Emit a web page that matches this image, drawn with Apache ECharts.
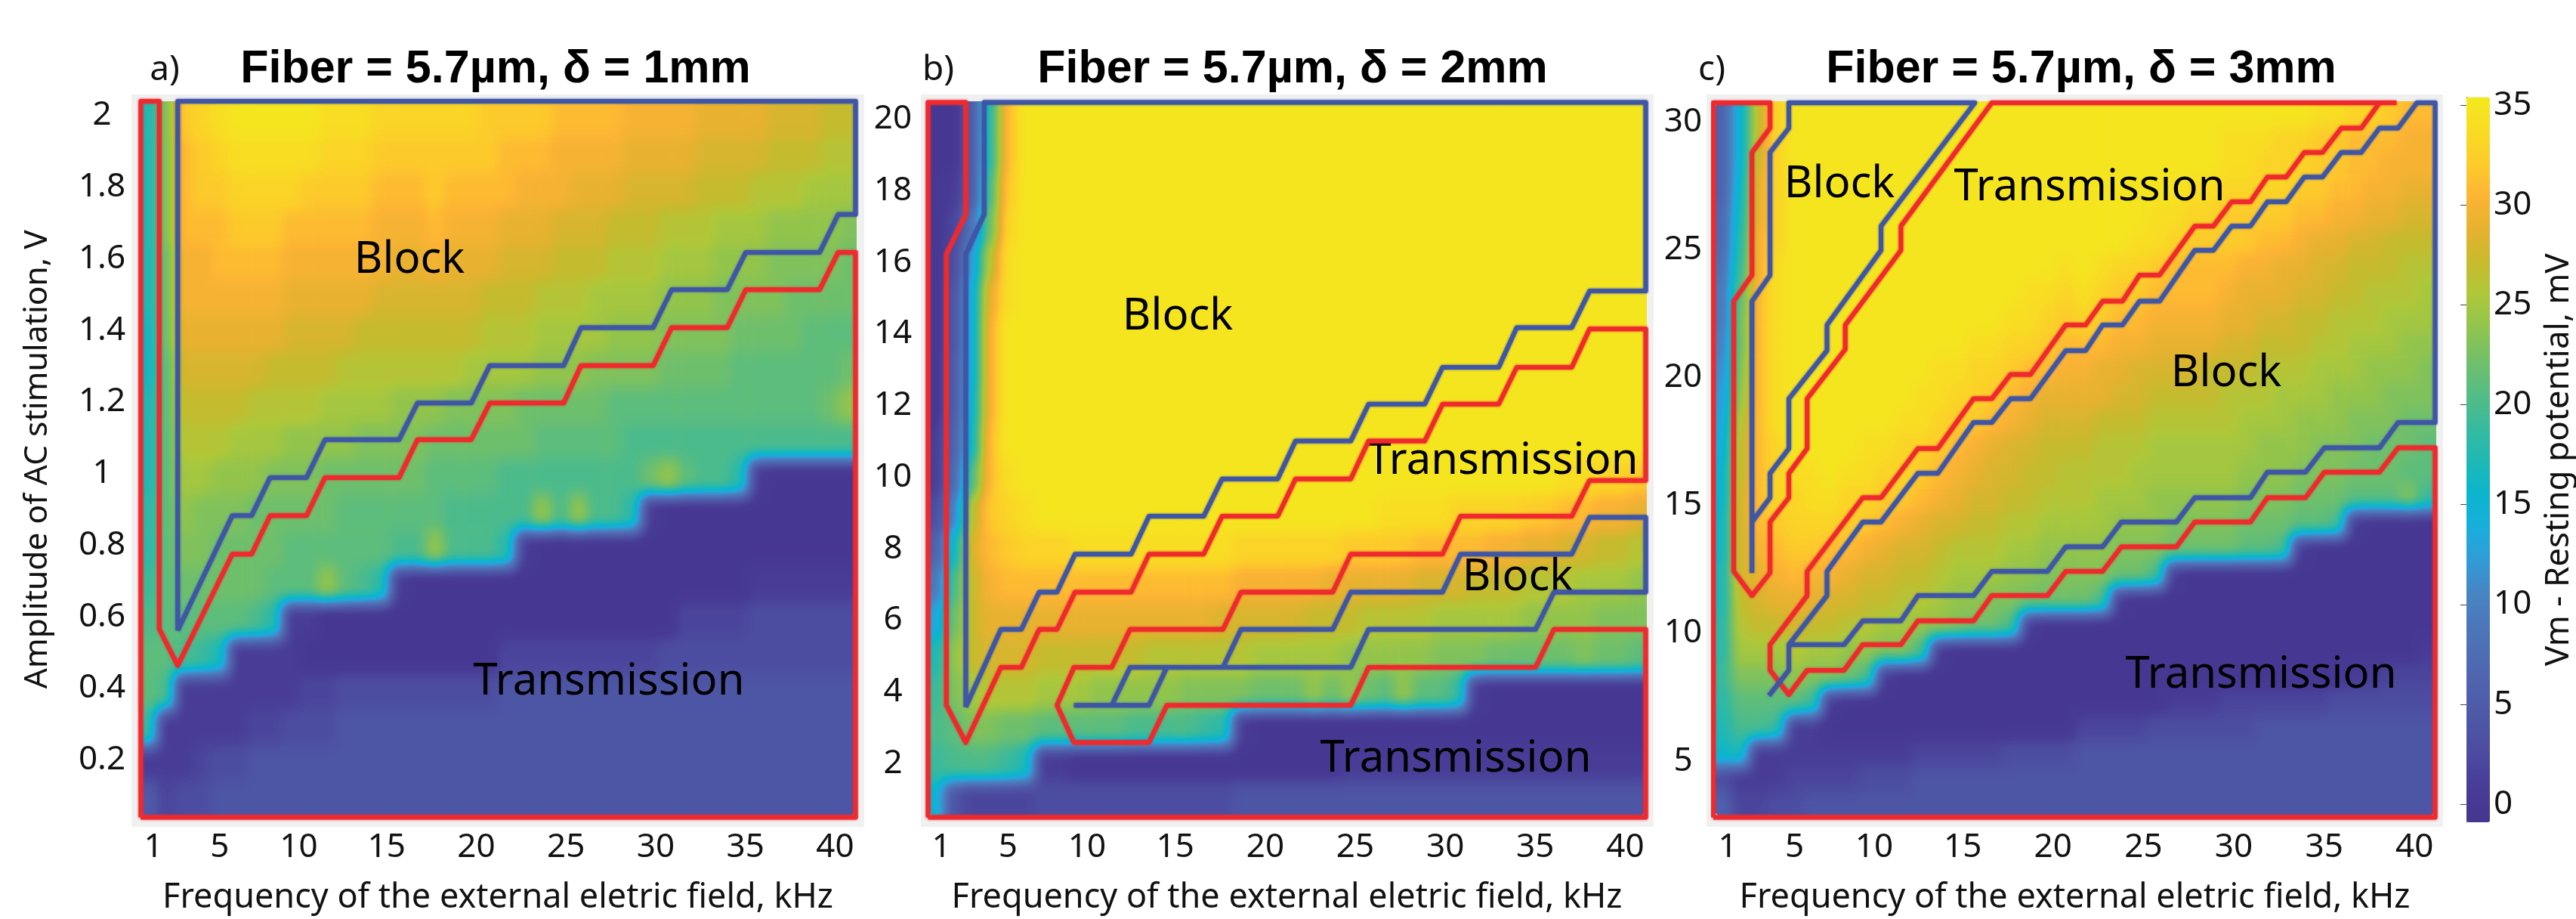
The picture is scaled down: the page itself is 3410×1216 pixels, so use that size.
<!DOCTYPE html>
<html><head><meta charset="utf-8">
<style>html,body{margin:0;padding:0;background:#fff}#c{width:3410px;height:1216px;overflow:hidden}</style>
<script src="https://cdn.jsdelivr.net/npm/echarts@6/dist/echarts.min.js"></script>
</head><body>
<svg width="0" height="0" style="position:absolute"><defs>
<filter id="vmMap" x="0" y="0" width="100%" height="100%" color-interpolation-filters="sRGB">
<feGaussianBlur stdDeviation="8 10"/>
<feComponentTransfer><feFuncR id="fR" type="table"/><feFuncG id="fG" type="table"/><feFuncB id="fB" type="table"/><feFuncA type="discrete" tableValues="0 1"/></feComponentTransfer>
</filter></defs></svg>
<div id="c"></div>
<script>
const vmMin=-0.9, vmMax=35.4;
const parula=['#45368f','#483b96','#4c4a9f','#4e56a6','#4f60ac','#4e6cb3','#4c78ba','#4785c4','#2f9dd8','#18aedc','#0bb5cc','#20b9b4','#38ba9f','#55bc84','#72c06a','#90c44f','#aec83a','#c8ba2e','#e6b230','#fdb435','#fdcc2b','#f9dc24','#f4e91e'];
const xTickPos=[0.8,4.5,8.9,13.8,18.8,23.8,28.8,33.8,38.8];
const xTickLabels=['1','5','10','15','20','25','30','35','40'];
const yTicksA=[0.2,0.4,0.6,0.8,1,1.2,1.4,1.6,1.8,2];
const yTicksB=[2,4,6,8,10,12,14,16,18,20];
const yTicksC=[5,10,15,20,25,30];
const barTicks=[0,5,10,15,20,25,30,35];

const heatA=[
[17,23,32,33,34,35,35,35,35,35,34,34,34,33,33,33,33,33,33,32,32,32,32,31,31,31,31,30,30,30,30,29,29,29,29,28,28,28,27,27],
[17,23,31,32,33,34,34,34,34,34,33,33,33,32,32,32,32,32,32,32,31,31,31,30,30,30,30,29,29,29,29,28,28,28,28,27,27,27,26,26],
[17,23,31,32,32,33,33,33,33,32,32,32,32,31,31,31,32,31,31,31,31,30,30,30,29,29,29,28,28,28,28,27,27,27,26,26,26,25,25,25],
[17,23,31,31,31,32,32,32,31,31,31,31,31,30,30,30,31,30,30,30,29,29,29,28,28,28,27,27,27,26,26,26,25,25,25,24,24,24,24,23],
[17,22,30,30,31,31,31,31,30,30,30,30,30,30,29,29,30,29,29,29,28,28,28,27,27,27,26,26,26,25,25,25,24,24,24,23,23,23,23,22],
[17,22,30,30,30,30,30,30,29,29,29,29,29,28,28,28,28,28,28,27,27,27,26,26,26,25,25,25,25,24,24,24,23,23,23,23,22,22,22,22],
[16,22,29,29,29,29,29,29,28,28,28,28,27,27,27,27,27,27,27,26,26,26,25,25,25,25,24,24,24,23,23,23,23,22,22,22,22,21,21,21],
[16,21,28,28,28,28,28,27,27,27,27,26,26,26,26,26,26,26,25,25,25,25,24,24,24,23,23,23,23,22,22,22,22,21,21,21,21,21,21,22],
[17,21,27,27,27,27,26,26,26,26,25,25,25,25,24,24,24,23,23,23,23,22,22,22,22,22,21,21,21,21,21,21,21,21,21,21,21,21,22,24],
[17,21,26,26,26,25,25,25,24,24,24,24,23,23,23,23,22,22,22,22,22,22,21,21,21,21,21,20,20,20,20,20,20,20,20,20,20,20,20,20],
[17,21,25,25,24,24,24,23,23,23,22,22,22,22,22,22,21,21,21,21,20,20,20,20,20,20,20,20,22,24,21,20,20,18,1,0,0,0,0,0],
[18,21,24,23,23,23,22,22,22,22,22,21,21,21,21,21,21,20,20,20,20,20,24,20,24,20,20,18,1,0,0,0,0,0,0,0,0,0,0,0],
[18,21,23,23,22,22,22,22,21,21,21,21,21,21,20,20,24,20,20,20,18,1,0,0,0,0,0,0,0,0,0,0,0,0,0,0,0,0,0,0],
[19,21,22,22,22,22,22,21,21,21,24,21,20,18,1,0,0,0,0,0,0,0,0,0,0,0,0,0,0,0,0,0,0,0,1,1,1,1,1,1],
[20,21,21,21,21,21,20,18,1,1,0,0,0,0,0,0,0,0,0,0,0,0,0,0,0,0,0,0,0,0,2,2,2,2,3,3,3,3,3,3],
[21,21,20,19,17,1,1,1,1,0,0,0,0,0,0,0,0,0,0,0,2,2,2,2,2,2,2,2,2,3,3,3,3,3,3,3,3,3,3,3],
[21,20,1,1,1,1,1,1,1,2,2,3,3,3,3,3,3,3,3,3,4,4,4,4,4,4,4,4,4,4,4,4,4,4,4,4,4,4,4,4],
[19,1,1,1,1,1,2,2,3,3,3,4,4,4,4,4,4,4,4,4,4,4,4,4,4,4,4,4,4,4,4,4,4,4,4,4,4,4,4,4],
[1,1,1,2,3,3,4,4,4,4,4,4,4,4,4,4,4,4,4,4,4,4,4,4,4,4,4,4,4,4,4,4,4,4,4,4,4,4,4,4],
[5,2,3,3,4,4,4,4,4,4,4,4,4,4,4,4,4,4,4,4,4,4,4,4,4,4,4,4,4,4,4,4,4,4,4,4,4,4,4,4]
];
const heatB=[
[0,0,5,18,31,35,35,35,35,35,35,35,35,35,35,35,35,35,35,35,35,35,35,35,35,35,35,35,35,35,35,35,35,35,35,35,35,35,35,35],
[0,0,5,18,31,35,35,35,35,35,35,35,35,35,35,35,35,35,35,35,35,35,35,35,35,35,35,35,35,35,35,35,35,35,35,35,35,35,35,35],
[0,1,5,20,32,35,35,35,35,35,35,35,35,35,35,35,35,35,35,35,35,35,35,35,35,35,35,35,35,35,35,35,35,35,35,35,35,35,35,35],
[0,2,8,22,33,35,35,35,35,35,35,35,35,35,35,35,35,35,35,35,35,35,35,35,35,35,35,35,35,35,35,35,35,35,35,35,35,35,35,35],
[0,3,12,26,34,35,35,35,35,35,35,35,35,35,35,35,35,35,35,35,35,35,35,35,35,35,35,35,35,35,35,35,35,35,35,35,35,35,35,35],
[0,4,14,29,34,35,35,35,35,35,35,35,35,35,35,35,35,35,35,35,35,35,35,35,35,35,35,35,35,35,35,35,35,35,35,35,35,35,35,35],
[0,4,14,30,35,35,35,35,35,35,35,35,35,35,35,35,35,35,35,35,35,35,35,35,35,35,35,35,35,35,35,35,35,35,35,35,35,35,35,35],
[0,5,14,30,35,35,35,35,35,35,35,35,35,35,35,35,35,35,35,35,35,35,35,35,35,35,35,35,35,35,35,35,35,35,35,35,35,35,35,35],
[0,5,15,30,35,35,35,35,35,35,35,35,35,35,35,35,35,35,35,35,35,35,35,35,35,35,35,35,35,35,35,35,35,35,35,35,35,35,35,35],
[1,6,16,31,35,35,35,35,35,35,35,35,35,35,35,35,35,35,35,35,35,35,35,35,35,35,35,35,35,35,35,35,35,35,35,35,35,35,35,35],
[1,7,20,31,34,35,35,35,35,35,35,35,35,35,35,35,35,35,35,35,35,35,35,35,35,35,35,35,35,35,35,35,35,35,35,34,34,33,33,32],
[3,10,26,32,33,34,35,35,35,35,35,35,35,35,35,35,35,35,35,35,35,35,35,35,35,34,34,34,34,33,33,33,33,32,32,31,31,30,30,29],
[6,16,28,31,32,33,33,33,34,34,34,34,34,34,34,34,34,33,33,33,33,33,33,32,32,32,32,31,31,31,31,30,30,29,29,28,28,27,27,26],
[9,20,27,30,31,31,31,31,31,31,31,31,31,31,31,31,31,30,30,30,30,30,29,29,29,29,29,28,28,28,27,27,27,26,26,26,25,25,25,24],
[13,22,27,29,29,29,29,29,29,29,29,29,29,29,29,29,28,28,28,28,28,27,27,27,26,26,26,26,25,25,25,25,25,24,24,24,24,23,23,23],
[17,24,27,28,28,28,27,27,27,27,27,27,26,26,26,26,26,26,25,25,25,25,25,24,24,24,24,24,23,23,23,22,22,22,22,22,23,22,22,21],
[19,23,25,26,26,26,25,25,25,24,24,24,24,24,23,23,23,23,22,22,22,24,22,24,22,21,24,21,21,19,1,0,0,0,0,0,0,0,0,0],
[20,21,23,23,22,22,21,21,21,21,21,20,20,20,20,19,18,1,0,0,0,0,0,0,0,0,0,0,0,0,0,0,0,0,0,0,0,0,0,0],
[19,20,20,20,19,17,1,1,0,0,0,0,0,0,0,0,0,0,0,0,0,0,0,1,1,1,1,1,1,1,1,1,1,1,1,1,1,1,1,1],
[15,4,2,2,2,2,3,3,3,3,3,3,3,3,3,3,3,4,4,4,4,4,4,4,4,4,4,4,4,4,4,4,4,4,4,4,4,4,4,4]
];
const heatC=[
[6,15,27,33,35,35,35,35,35,35,35,35,35,35,35,35,35,35,35,35,35,35,35,35,35,35,35,35,35,35,35,35,35,34,34,33,33,32,31,31],
[6,15,27,33,35,35,35,35,35,35,35,35,35,35,35,35,35,35,35,35,35,35,35,35,35,35,35,35,34,34,34,33,33,32,32,31,31,31,30,30],
[6,15,28,33,35,35,35,35,35,35,35,35,35,35,35,35,35,35,35,35,35,35,35,35,35,35,35,35,34,34,33,33,33,32,32,31,31,30,30,30],
[6,16,29,33,35,35,35,35,35,35,35,35,35,35,35,35,35,35,35,35,35,35,35,35,35,35,34,34,33,33,33,33,32,32,31,31,30,30,29,29],
[7,17,29,33,35,35,35,35,35,35,35,35,35,35,35,35,35,35,35,35,35,35,35,35,34,34,33,33,32,32,32,32,31,31,30,30,29,29,28,28],
[7,18,30,33,35,35,35,35,35,35,35,35,35,35,35,35,35,35,35,35,35,35,35,34,34,33,32,32,32,32,31,31,30,29,29,28,28,27,27,27],
[8,19,30,34,35,35,35,35,35,35,35,35,35,35,35,35,35,35,35,34,35,34,33,33,32,31,31,31,31,30,30,29,29,28,28,27,27,27,26,26],
[9,21,31,34,35,35,35,35,35,35,35,35,35,35,35,35,35,34,34,33,34,33,32,32,31,31,31,31,30,29,29,29,28,28,27,27,26,26,26,25],
[9,22,31,34,35,35,35,35,35,35,35,35,35,35,35,35,34,34,33,32,33,32,31,31,30,30,30,30,29,29,28,28,27,27,26,26,26,25,25,25],
[10,22,31,34,35,35,35,35,35,35,35,35,35,35,34,34,33,33,32,31,31,31,30,30,29,29,29,29,28,28,27,27,27,26,26,25,25,25,24,24],
[11,23,31,34,35,35,35,35,35,35,35,35,34,34,33,33,32,31,31,30,30,29,29,28,28,28,28,27,27,27,26,26,26,25,25,25,24,24,24,23],
[12,24,31,34,35,35,35,35,35,35,35,34,34,33,33,32,31,30,29,29,29,29,28,28,27,27,27,27,26,26,26,25,25,25,24,24,24,23,23,23],
[13,26,31,34,35,35,35,35,35,35,34,34,33,32,32,31,30,29,28,28,28,27,27,27,26,26,26,26,26,25,25,25,24,24,24,23,23,23,22,22],
[14,27,31,33,35,35,35,35,34,34,33,33,32,31,30,29,28,28,27,27,27,26,26,26,25,25,25,25,25,25,24,24,24,23,23,23,22,22,22,21],
[15,27,31,33,34,34,35,34,34,33,33,32,31,30,29,28,28,27,27,26,26,26,26,25,25,25,25,25,25,24,24,24,23,23,23,22,22,22,21,21],
[15,28,31,33,33,34,34,33,33,32,32,31,30,29,28,28,27,27,26,26,26,25,25,25,24,24,24,24,24,23,23,23,22,22,22,21,21,21,23,19],
[16,28,31,32,33,33,33,32,32,31,30,29,28,28,27,27,26,26,25,25,25,25,24,24,24,23,23,23,23,22,22,22,21,21,20,1,0,0,0,0],
[16,28,30,31,32,32,31,31,30,29,28,28,27,26,26,26,25,25,24,24,24,24,23,23,23,22,22,22,22,21,21,20,1,0,0,0,0,0,0,0],
[17,28,29,30,31,30,30,29,28,28,27,27,26,25,25,25,24,24,23,23,23,23,22,22,20,1,0,0,0,0,0,0,0,0,0,0,0,0,0,0],
[17,27,28,29,29,29,28,28,27,27,26,26,25,24,24,23,23,22,22,22,22,20,1,0,0,0,0,0,0,0,0,0,0,0,0,0,0,0,0,0],
[18,26,27,27,28,27,27,26,26,25,25,24,24,23,22,22,20,1,0,0,0,0,0,0,0,0,0,0,0,0,0,0,0,0,0,0,0,0,0,0],
[18,25,25,25,26,25,25,24,24,23,23,20,1,0,0,0,0,0,0,0,0,0,0,0,0,0,0,0,0,0,0,0,0,0,0,0,0,0,0,1],
[19,23,23,23,24,23,23,22,20,1,0,0,0,0,0,0,0,0,0,0,0,0,0,0,0,0,0,0,0,0,0,0,0,0,0,1,1,2,2,2],
[18,21,21,21,21,19,1,0,0,0,0,0,0,0,0,0,0,0,0,0,0,0,0,0,0,1,1,1,2,2,2,2,2,2,3,3,3,3,3,3],
[17,20,20,19,1,1,0,0,0,0,0,0,0,0,0,0,0,0,0,0,2,2,2,2,3,3,3,3,3,3,4,4,4,4,4,4,4,4,4,4],
[16,17,1,1,1,1,1,1,1,1,1,2,2,2,2,2,3,3,3,3,4,4,4,4,4,4,4,4,4,4,4,4,4,4,4,4,4,4,4,4],
[3,1,1,1,2,2,2,2,3,3,3,4,4,4,4,4,4,4,4,4,4,4,4,4,4,4,4,4,4,4,4,4,4,4,4,4,4,4,4,4],
[6,2,2,3,3,4,4,4,4,4,4,4,4,4,4,4,4,4,4,4,4,4,4,4,4,4,4,4,4,4,4,4,4,4,4,4,4,4,4,4]
];

const redA=[[0.1,0.04],[0.1,2.04],[1.13,2.04],[1.13,0.566],[2.16,0.464],[5.2,0.775],[6.28,0.775],[7.31,0.883],[9.34,0.883],[10.37,0.989],[14.5,0.989],[15.52,1.095],[18.52,1.095],[19.55,1.197],[23.67,1.197],[24.64,1.302],[28.66,1.302],[29.69,1.408],[32.79,1.408],[33.82,1.514],[37.94,1.514],[38.97,1.618],[39.94,1.618],[39.94,0.04],[0.1,0.04]];
const blueA=[[2.16,0.562],[2.16,2.04],[39.94,2.04],[39.94,1.724],[38.97,1.724],[37.94,1.618],[33.82,1.618],[32.79,1.514],[29.69,1.514],[28.66,1.408],[24.64,1.408],[23.67,1.302],[19.55,1.302],[18.52,1.197],[15.52,1.197],[14.5,1.095],[10.37,1.095],[9.34,0.989],[7.31,0.989],[6.28,0.883],[5.2,0.883],[2.16,0.562]];
const redB=[[0.06,0.5],[0.06,20.47],[2.16,20.47],[2.16,17.34],[1.08,16.23],[1.08,3.63],[2.16,2.59],[4.11,4.69],[5.25,4.69],[6.24,5.75],[7.23,5.75],[8.23,6.79],[11.35,6.79],[12.34,7.85],[15.38,7.85],[16.4,8.91],[19.49,8.91],[20.48,9.95],[23.55,9.95],[24.54,11.01],[27.66,11.01],[28.65,12.04],[31.77,12.04],[32.77,13.07],[35.83,13.07],[36.82,14.14],[39.94,14.14],[39.94,9.91],[36.82,9.91],[35.83,8.91],[29.65,8.91],[28.65,7.85],[23.55,7.85],[22.55,6.79],[17.45,6.79],[16.45,5.75],[11.29,5.75],[10.27,4.69],[8.17,4.69],[7.23,3.63],[8.17,2.59],[12.34,2.59],[13.33,3.63],[23.55,3.63],[24.54,4.69],[33.82,4.69],[34.84,5.75],[39.94,5.75],[39.94,0.5],[0.06,0.5]];
const blueB1=[[2.16,3.58],[2.16,16.23],[3.18,17.34],[3.18,20.47],[39.94,20.47],[39.94,15.2],[36.82,15.2],[35.83,14.18],[32.77,14.18],[31.77,13.07],[28.65,13.07],[27.66,12.04],[24.54,12.04],[23.55,11.01],[20.48,11.01],[19.49,9.95],[16.4,9.95],[15.38,8.91],[12.34,8.91],[11.35,7.85],[8.23,7.85],[7.23,6.79],[6.24,6.79],[5.25,5.75],[4.11,5.75],[2.16,3.58]];
const blueB2=[[8.17,3.63],[12.34,3.63],[13.33,4.69],[23.55,4.69],[24.54,5.75],[33.82,5.75],[34.84,6.79],[39.94,6.79],[39.94,8.88],[36.82,8.88],[35.83,7.85],[29.65,7.85],[28.65,6.79],[23.55,6.79],[22.55,5.75],[17.45,5.75],[16.45,4.69],[11.29,4.69],[10.27,3.63]];
const redC1=[[0,2.8],[0,30.74],[3.14,30.74],[3.14,29.75],[2.14,28.8],[2.14,24],[1.13,22.98],[1.13,12.42],[2.14,11.47],[3.14,12.36],[3.14,14.35],[4.18,15.3],[4.18,16.25],[5.19,17.22],[5.19,19.17],[7.3,21.1],[7.3,22.05],[10.38,24.97],[10.38,25.92],[15.41,30.74],[37.8,30.74]];
const redC2=[[36.86,30.74],[35.85,29.75],[34.75,29.75],[33.71,28.8],[32.7,28.8],[31.7,27.84],[30.66,27.84],[29.72,26.87],[28.68,26.87],[27.67,25.92],[26.64,25.92],[24.69,24],[23.58,24],[22.64,22.98],[21.54,22.98],[20.6,22.05],[19.5,22.05],[17.55,20.12],[16.45,20.12],[15.41,19.17],[14.4,19.17],[12.42,17.22],[11.32,17.22],[9.28,15.3],[8.27,15.3],[5.19,12.42],[5.19,11.47],[3.14,9.55],[3.14,8.55],[4.18,7.6],[5.19,8.55],[7.23,8.55],[8.27,9.55],[10.38,9.55],[11.32,10.48],[14.4,10.48],[15.41,11.47],[18.49,11.47],[19.5,12.42],[21.54,12.42],[22.58,13.38],[25.63,13.38],[26.64,14.35],[29.72,14.35],[30.66,15.3],[32.77,15.3],[33.81,16.3],[36.86,16.3],[37.89,17.25],[39.94,17.25],[39.94,2.8],[0,2.8]];
const blueC1=[[2.14,12.36],[2.14,22.98],[3.14,24],[3.14,28.8],[4.18,29.75],[4.18,30.74],[14.47,30.74],[9.28,25.92],[9.28,24.97],[6.29,22.05],[6.29,21.05],[4.18,19.17],[4.18,17.22],[3.14,16.25],[3.14,15.3],[2.14,14.35]];
const blueC2=[[3.08,7.56],[4.18,8.55],[4.18,9.55],[7.23,9.55],[8.27,10.48],[10.38,10.48],[11.32,11.47],[14.4,11.47],[15.41,12.42],[18.49,12.42],[19.5,13.38],[21.54,13.38],[22.58,14.35],[25.63,14.35],[26.64,15.3],[29.72,15.3],[30.66,16.3],[32.77,16.3],[33.81,17.25],[36.86,17.25],[37.89,18.24],[39.94,18.24],[39.94,30.74],[38.93,30.74],[37.89,29.75],[36.86,29.75],[35.85,28.8],[34.75,28.8],[33.71,27.84],[32.7,27.84],[31.7,26.87],[30.66,26.87],[29.72,25.92],[28.68,25.92],[27.67,24.97],[26.64,24.97],[24.69,22.98],[23.58,22.98],[22.64,22.05],[21.54,22.05],[20.6,21.05],[19.5,21.05],[17.55,19.17],[16.45,19.17],[15.41,18.24],[14.4,18.24],[12.42,16.25],[11.32,16.25],[9.28,14.35],[8.27,14.35],[6.29,12.42],[6.29,11.47],[4.18,9.55]];

const RED='#ee2a2e', BLUE='#3f55a6', TXT='#111';
const SANS='"Noto Sans"', BOLD='"Liberation Sans"';
const panels=[
 {heat:heatA,left:184,width:950,yMin:0.04,yMax:2.04,yTicks:yTicksA,labelMargin:49,yName:'Amplitude of AC stimulation, V',lines:[[redA,RED],[blueA,BLUE]]},
 {heat:heatB,left:1227,width:953,yMin:0.5,yMax:20.5,yTicks:yTicksB,labelMargin:45,yName:'',lines:[[redB,RED],[blueB1,BLUE],[blueB2,BLUE]]},
 {heat:heatC,left:2268,width:957,yMin:2.8,yMax:30.8,yTicks:yTicksC,labelMargin:40,yName:'',lines:[[redC1,RED],[redC2,RED],[blueC1,BLUE],[blueC2,BLUE]]}
];
const titles=[['Fiber = 5.7µm, δ = 1mm',656],['Fiber = 5.7µm, δ = 2mm',1711],['Fiber = 5.7µm, δ = 3mm',2755]];
const tags=[['a)',218],['b)',1242],['c)',2266]];
const notes=[['Block',542,344],['Transmission',806,902],['Block',1559,419],['Transmission',1989,610],['Block',2009,764],['Transmission',1927,1004],['Block',2435,244],['Transmission',2766,248],['Block',2947,494],['Transmission',2993,893]];
const frames=[[174,125,970,969],[1219,125,970,969],[2259,125,975,969]];

const grid=[],xAxis=[],yAxis=[],series=[];
panels.forEach((p,i)=>{
 grid.push({left:p.left,width:p.width,top:134,height:948,show:false});
 const rows=p.heat.length, cols=p.heat[0].length;
 const hx=xAxis.length, hy=yAxis.length;
 xAxis.push({type:'category',gridIndex:i,show:false,data:Array.from({length:cols},(_,k)=>k)});
 yAxis.push({type:'category',gridIndex:i,show:false,inverse:true,data:Array.from({length:rows},(_,k)=>k)});
 const vx=xAxis.length, vy=yAxis.length;
 xAxis.push({type:'value',gridIndex:i,min:0,max:40,zlevel:2,position:'bottom',splitLine:{show:false},axisLine:{show:false},axisTick:{show:false},
  axisLabel:{customValues:xTickPos,formatter:v=>xTickLabels[xTickPos.indexOf(v)],margin:40,verticalAlign:'middle',fontFamily:SANS,fontSize:44,color:TXT},
  name:'Frequency of the external eletric field, kHz',nameLocation:'middle',nameGap:107,nameTextStyle:{fontFamily:SANS,fontSize:45,color:TXT,verticalAlign:'middle'}});
 yAxis.push({type:'value',gridIndex:i,min:p.yMin,max:p.yMax,zlevel:2,position:'left',splitLine:{show:false},axisLine:{show:false},axisTick:{show:false},
  axisLabel:{customValues:p.yTicks,margin:p.labelMargin,align:'center',fontFamily:SANS,fontSize:44,color:TXT},
  name:p.yName,nameLocation:'middle',nameGap:134,nameRotate:90,nameTextStyle:{fontFamily:SANS,fontSize:42.5,color:TXT,verticalAlign:'middle'}});
 const cells=[];
 p.heat.forEach((r,y)=>r.forEach((v,x)=>cells.push([x,y,v])));
 series.push({type:'heatmap',xAxisIndex:hx,yAxisIndex:hy,data:cells,zlevel:1,silent:true,progressive:0,emphasis:{disabled:true},itemStyle:{borderWidth:0}});
 p.lines.forEach(([d,c])=>series.push({type:'line',xAxisIndex:vx,yAxisIndex:vy,data:d,zlevel:2,silent:true,clip:false,symbol:'none',animation:false,
  lineStyle:{color:c,width:6,join:'round',shadowBlur:3,shadowColor:c}}));
});
// colour bar axis
grid.push({left:3265,width:31,top:128.5,height:959.5,show:false});
xAxis.push({type:'value',gridIndex:3,show:false,min:0,max:1});
yAxis.push({type:'value',gridIndex:3,min:vmMin,max:vmMax,position:'right',zlevel:2,splitLine:{show:false},
 axisLine:{show:true,lineStyle:{color:'#555',width:1}},
 axisTick:{show:true,inside:true,length:8,customValues:barTicks,lineStyle:{color:'#444'}},
 axisLabel:{customValues:barTicks,margin:14,fontFamily:SANS,fontSize:44,color:TXT},
 name:'Vm - Resting potential, mV',nameLocation:'middle',nameGap:100,nameRotate:90,nameTextStyle:{fontFamily:SANS,fontSize:44,color:TXT,verticalAlign:'middle'}});

const graphic=[];
frames.forEach(f=>graphic.push({type:'rect',zlevel:0,silent:true,shape:{x:f[0],y:f[1],width:f[2],height:f[3]},style:{fill:'#f0f0f0'}}));
tags.forEach(t=>graphic.push({type:'text',zlevel:2,silent:true,x:t[1],y:93,style:{text:t[0],fontFamily:SANS,fontSize:46,fill:TXT,align:'center',verticalAlign:'middle'}}));
notes.forEach(n=>graphic.push({type:'text',zlevel:2,silent:true,x:n[1],y:n[2],style:{text:n[0],fontFamily:SANS,fontSize:58,fill:'#000',align:'center',verticalAlign:'middle'}}));

const chart=echarts.init(document.getElementById('c'),null,{renderer:'canvas'});
chart.setOption({
 animation:false,backgroundColor:'#fff',
 title:titles.map(t=>({text:t[0],left:t[1],top:62,padding:0,textAlign:'center',zlevel:2,textStyle:{fontFamily:BOLD,fontWeight:'bold',fontSize:61,color:'#000'}})),
 grid,xAxis,yAxis,series,graphic,
 visualMap:[
  {type:'continuous',show:false,seriesIndex:series.map((s,k)=>s.type==='heatmap'?k:-1).filter(k=>k>=0),min:vmMin,max:vmMax,inRange:{color:['#000000','#ffffff']},calculable:false,hoverLink:false},
  {type:'continuous',show:true,seriesIndex:[],min:vmMin,max:vmMax,left:3265,top:128.5,padding:0,itemWidth:31,itemHeight:959.5,text:['',''],showLabel:false,calculable:false,hoverLink:false,zlevel:2,inRange:{color:parula},align:'left',orient:'vertical'}
 ]
});
// the heatmap layer holds each value as a grey level; smooth it and map it through the colour scale
function ch(h,o){return parseInt(h.substr(o,2),16)/255}
[['fR',1],['fG',3],['fB',5]].forEach(([id,o])=>document.getElementById(id).setAttribute('tableValues',parula.map(c=>ch(c,o).toFixed(4)).join(' ')));
const layer=document.querySelector('[data-zr-dom-id="zr_1"]');
if(layer) layer.style.filter='url(#vmMap)';
</script>
</body></html>
